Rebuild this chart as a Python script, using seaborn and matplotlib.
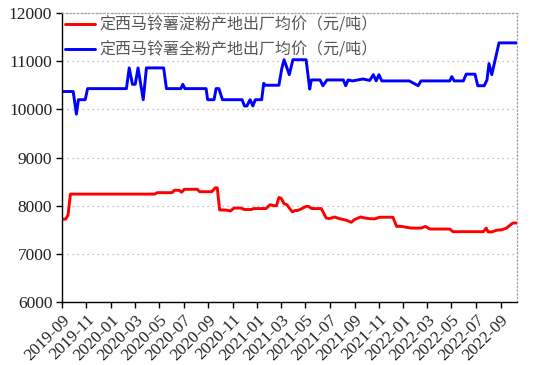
import matplotlib
matplotlib.use("Agg")
import matplotlib.pyplot as plt
import matplotlib.dates as mdates
import seaborn as sns
import pandas as pd

# ---- data ----
starch_dates = ["2019-09-01", "2019-09-10", "2019-09-16", "2019-09-22", "2020-04-20", "2020-04-26",
                "2020-06-02", "2020-06-08", "2020-06-19", "2020-06-26", "2020-07-03", "2020-08-04",
                "2020-08-10", "2020-09-09", "2020-09-18", "2020-09-23", "2020-09-29", "2020-10-13",
                "2020-10-26", "2020-11-04", "2020-11-21", "2020-11-30", "2020-12-17", "2020-12-23",
                "2021-01-23", "2021-02-02", "2021-02-11", "2021-02-18", "2021-02-24", "2021-03-02",
                "2021-03-09", "2021-03-16", "2021-03-22", "2021-03-30", "2021-04-05", "2021-04-12",
                "2021-04-20", "2021-05-03", "2021-05-09", "2021-05-17", "2021-06-10", "2021-06-22",
                "2021-06-30", "2021-07-13", "2021-07-25", "2021-08-11", "2021-08-24", "2021-09-01",
                "2021-09-16", "2021-09-26", "2021-10-09", "2021-10-21", "2021-11-03", "2021-12-06",
                "2021-12-15", "2021-12-27", "2022-01-09", "2022-01-21", "2022-02-15", "2022-02-25",
                "2022-03-08", "2022-04-27", "2022-05-05", "2022-07-20", "2022-07-27", "2022-08-01",
                "2022-08-10", "2022-08-22", "2022-09-04", "2022-09-16", "2022-09-29", "2022-10-03",
                "2022-10-12"]
starch_values = [7720, 7720, 7800, 8240, 8240, 8270,
                 8270, 8320, 8320, 8280, 8340, 8340,
                 8290, 8290, 8370, 8370, 7910, 7910,
                 7890, 7950, 7950, 7920, 7920, 7940,
                 7940, 8020, 8000, 8000, 8170, 8150,
                 8040, 8020, 7950, 7870, 7900, 7900,
                 7930, 7985, 7985, 7940, 7940, 7745,
                 7730, 7765, 7730, 7700, 7655, 7710,
                 7765, 7745, 7730, 7725, 7760, 7760,
                 7570, 7570, 7550, 7535, 7535, 7570,
                 7515, 7515, 7460, 7460, 7535, 7455,
                 7455, 7490, 7500, 7535, 7625, 7640,
                 7640]

flour_dates = ["2019-09-01", "2019-09-29", "2019-10-07", "2019-10-12", "2019-10-29", "2019-11-04",
               "2020-02-09", "2020-02-16", "2020-02-24", "2020-03-02", "2020-03-09", "2020-03-22",
               "2020-03-30", "2020-05-12", "2020-05-19", "2020-06-24", "2020-06-29", "2020-07-04",
               "2020-08-26", "2020-08-30", "2020-09-15", "2020-09-20", "2020-09-27", "2020-10-06",
               "2020-11-24", "2020-11-30", "2020-12-06", "2020-12-14", "2020-12-21", "2020-12-27",
               "2021-01-12", "2021-01-17", "2021-01-21", "2021-02-24", "2021-03-03", "2021-03-09",
               "2021-03-22", "2021-03-31", "2021-05-03", "2021-05-12", "2021-05-16", "2021-06-07",
               "2021-06-14", "2021-06-24", "2021-08-04", "2021-08-10", "2021-08-16", "2021-08-27",
               "2021-09-22", "2021-10-09", "2021-10-18", "2021-10-25", "2021-11-01", "2021-11-08",
               "2022-01-16", "2022-02-07", "2022-02-14", "2022-04-27", "2022-05-02", "2022-05-08",
               "2022-05-31", "2022-06-07", "2022-06-29", "2022-07-06", "2022-07-22", "2022-07-29",
               "2022-08-03", "2022-08-10", "2022-08-28", "2022-10-12"]
flour_values = [10370, 10370, 9900, 10200, 10200, 10430,
                10430, 10860, 10520, 10520, 10860, 10200,
                10860, 10860, 10430, 10430, 10520, 10430,
                10430, 10200, 10200, 10430, 10430, 10200,
                10200, 10070, 10070, 10200, 10070, 10200,
                10200, 10540, 10500, 10500, 10840, 11030,
                10720, 11030, 11030, 10420, 10610, 10610,
                10490, 10610, 10610, 10490, 10610, 10590,
                10630, 10600, 10720, 10590, 10720, 10590,
                10590, 10490, 10590, 10590, 10680, 10590,
                10590, 10730, 10730, 10490, 10490, 10610,
                10950, 10720, 11380, 11380]

series_labels = ["定西马铃薯淀粉产地出厂均价（元/吨）", "定西马铃薯全粉产地出厂均价（元/吨）"]
y_ticks = [6000, 7000, 8000, 9000, 10000, 11000, 12000]

# ---- plot ----
sns.set_theme(style="white")
plt.rcParams['font.family'] = ['Noto Sans CJK SC', 'DejaVu Sans']

fig = plt.figure(figsize=(5.38, 3.65), dpi=100)
ax = fig.add_axes([62 / 538, 1 - 302 / 365, (517 - 62) / 538, (302 - 13) / 365])

df_s = pd.DataFrame({"date": pd.to_datetime(starch_dates), "value": starch_values})
df_f = pd.DataFrame({"date": pd.to_datetime(flour_dates), "value": flour_values})

sns.lineplot(data=df_s, x="date", y="value", ax=ax, color="#FF0000", linewidth=2.1,
             label=series_labels[0])
sns.lineplot(data=df_f, x="date", y="value", ax=ax, color="#0000FF", linewidth=2.1,
             label=series_labels[1])

ax.set_xlim(pd.Timestamp("2019-09-01"), pd.Timestamp("2022-10-12"))
ax.set_ylim(6000, 12000)
ax.set_yticks(y_ticks)
ax.set_xlabel("")
ax.set_ylabel("")

ax.xaxis.set_major_locator(mdates.MonthLocator(bymonth=[1, 3, 5, 7, 9, 11]))
ax.xaxis.set_major_formatter(mdates.DateFormatter("%Y-%m"))

for lbl in ax.get_xticklabels():
    lbl.set_rotation(45)
    lbl.set_ha("right")
    lbl.set_rotation_mode("anchor")
    lbl.set_fontfamily("Liberation Serif")
    lbl.set_fontsize(12.3)
    lbl.set_color("#222222")
for lbl in ax.get_yticklabels():
    lbl.set_fontfamily("Liberation Serif")
    lbl.set_fontsize(12.5)
    lbl.set_color("#222222")

ax.tick_params(axis="both", which="major", direction="out", length=4, width=1, color="black",
               left=True, bottom=True, pad=3)

ax.grid(axis="y", color="#b0b0b0", linestyle=(0, (1, 3)), linewidth=0.9)
ax.grid(axis="x", visible=False)

for side in ["left", "bottom"]:
    ax.spines[side].set_color("black")
    ax.spines[side].set_linewidth(1.0)
for side in ["top", "right"]:
    ax.spines[side].set_color("#a0a0a0")
    ax.spines[side].set_linestyle((0, (1, 2)))
    ax.spines[side].set_linewidth(0.9)

leg = ax.legend(loc="upper left", frameon=False, fontsize=11.5, handlelength=1.85,
                handletextpad=0.3, labelspacing=0.5, borderaxespad=0.0, borderpad=0.2)
for t in leg.get_texts():
    t.set_color("#555555")

fig.savefig("out.png", dpi=100)
